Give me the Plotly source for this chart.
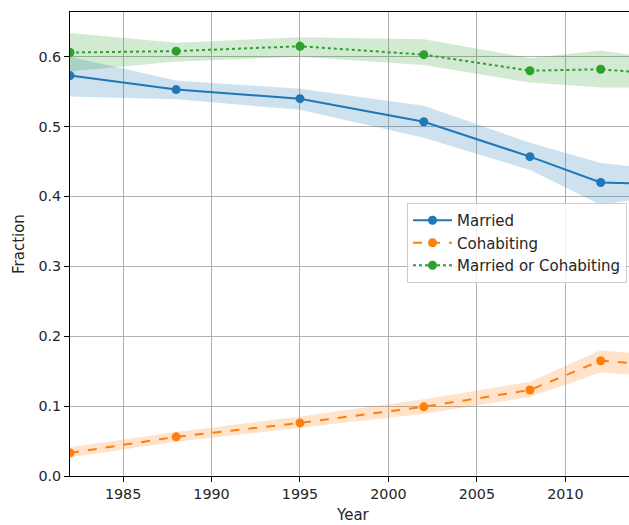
import plotly.graph_objects as go

years = [1982, 1988, 1995, 2002, 2008, 2012, 2015]

married = [0.573, 0.553, 0.540, 0.507, 0.457, 0.420, 0.418]
married_lo = [0.543, 0.539, 0.524, 0.484, 0.438, 0.388, 0.400]
married_hi = [0.600, 0.566, 0.554, 0.530, 0.477, 0.448, 0.440]

cohab = [0.033, 0.056, 0.076, 0.099, 0.123, 0.165, 0.159]
cohab_lo = [0.027, 0.049, 0.069, 0.089, 0.113, 0.148, 0.143]
cohab_hi = [0.041, 0.063, 0.085, 0.110, 0.135, 0.180, 0.173]

either = [0.606, 0.608, 0.615, 0.603, 0.580, 0.582, 0.576]
either_lo = [0.579, 0.593, 0.600, 0.588, 0.563, 0.556, 0.556]
either_hi = [0.634, 0.620, 0.628, 0.625, 0.598, 0.609, 0.598]

names = ["Married", "Cohabiting", "Married or Cohabiting"]
colors = ["#1f77b4", "#ff7f0e", "#2ca02c"]
fills = ["rgba(31,119,180,0.22)", "rgba(255,127,14,0.22)", "rgba(44,160,44,0.22)"]
dashes = ["solid", "dash", "dot"]
series = [(married, married_lo, married_hi), (cohab, cohab_lo, cohab_hi), (either, either_lo, either_hi)]

xtick_vals = [1985, 1990, 1995, 2000, 2005, 2010]
ytick_vals = [0, 0.1, 0.2, 0.3, 0.4, 0.5, 0.6]
ytick_text = ["0.0", "0.1", "0.2", "0.3", "0.4", "0.5", "0.6"]

W, H = 629, 525
L, R, T, B = 70, 0, 12, 525 - 476
pw = W - L - R
ph = H - T - B

fig = go.Figure()
for (vals, lo, hi), name, c, f, d in zip(series, names, colors, fills, dashes):
    fig.add_trace(go.Scatter(x=years, y=hi, mode="lines", line=dict(width=0, color=f),
                             showlegend=False, hoverinfo="skip"))
    fig.add_trace(go.Scatter(x=years, y=lo, mode="lines", line=dict(width=0, color=f),
                             fill="tonexty", fillcolor=f, showlegend=False, hoverinfo="skip"))
for (vals, lo, hi), name, c, f, d in zip(series, names, colors, fills, dashes):
    fig.add_trace(go.Scatter(x=years, y=vals, mode="lines+markers", name=name,
                             line=dict(color=c, width=2, dash=d),
                             marker=dict(color=c, size=9)))

tick_font = dict(family="DejaVu Sans", size=14.3, color="#262626")
label_font = dict(family="DejaVu Sans", size=15, color="#262626")


def px_x(page_x):
    return (page_x - L) / pw


def px_y(page_y):
    return (H - B - page_y) / ph


fig.update_layout(
    width=W, height=H,
    margin=dict(l=L, r=R, t=T, b=B),
    plot_bgcolor="white", paper_bgcolor="white",
    font=tick_font,
    legend=dict(x=px_x(407), y=px_y(203), xanchor="left", yanchor="top",
                bgcolor="rgba(255,255,255,0.8)", bordercolor="#cccccc", borderwidth=1,
                font=label_font, traceorder="normal",
                tracegroupgap=0, itemwidth=39),
    annotations=[
        dict(text="Fraction", xref="paper", yref="paper",
             x=px_x(19), y=px_y(244), textangle=-90,
             showarrow=False, font=label_font, xanchor="center", yanchor="middle"),
        dict(text="Year", xref="paper", yref="paper",
             x=px_x(353), y=px_y(515),
             showarrow=False, font=label_font, xanchor="center", yanchor="middle"),
    ],
)
fig.update_xaxes(range=[1982, 2013.6], tickvals=xtick_vals, automargin=False,
                 showgrid=True, gridcolor="#b0b0b0", gridwidth=1,
                 showline=True, linecolor="black", linewidth=1, mirror=True,
                 ticks="outside", ticklen=5, tickcolor="black", zeroline=False)
fig.update_yaxes(range=[0, 0.664], tickvals=ytick_vals, ticktext=ytick_text, automargin=False,
                 showgrid=True, gridcolor="#b0b0b0", gridwidth=1,
                 showline=True, linecolor="black", linewidth=1,
                 ticks="outside", ticklen=5, tickcolor="black", zeroline=False)

fig.write_html("out.html", config={"displayModeBar": False},
               post_script="document.body.style.margin='0';document.body.style.overflow='hidden';")
